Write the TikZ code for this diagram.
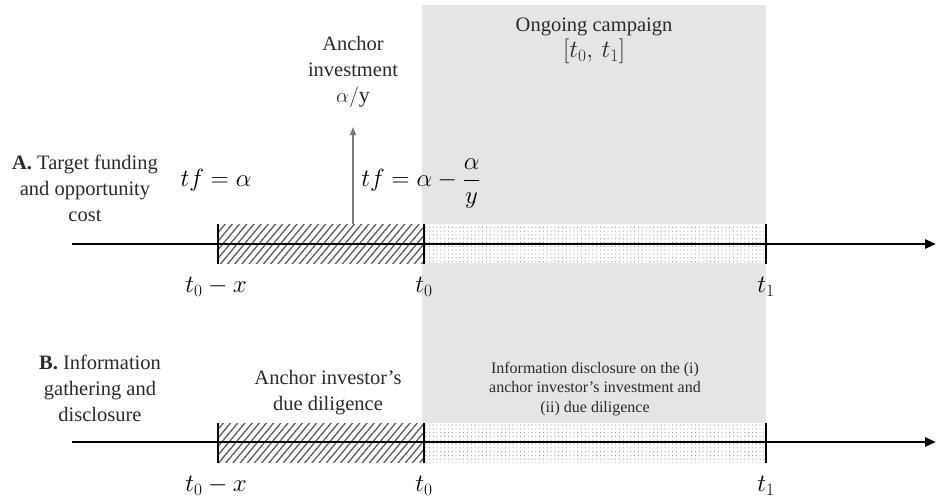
\documentclass[tikz,border=0pt]{standalone}
\usepackage{amsmath}
\usepackage{fontspec}
\setmainfont{Liberation Serif}
\usetikzlibrary{patterns.meta,arrows.meta}
\definecolor{campaign}{HTML}{E5E5E5}
\definecolor{hatchgray}{HTML}{5A5A5A}
\definecolor{dotgray}{HTML}{8C8C8C}
\definecolor{pointer}{HTML}{7A7A7A}
\definecolor{ink}{HTML}{2A2A2A}
\tikzset{
  timeline/.style={line width=2.6pt,-{Triangle[length=11pt,width=9pt]}},
  tickmark/.style={line width=1.8pt},
  hatchband/.style={fill=white,postaction={pattern={Lines[angle=50,distance=5.5pt,line width=1.3pt]},pattern color=hatchgray}},
  dotband/.style={fill=white,postaction={pattern={Dots[distance=3.8pt,radius=0.55pt]},pattern color=dotgray}},
  lbl/.style={align=center,text=ink,font=\fontsize{20.5}{26}\selectfont,inner sep=0pt},
  small/.style={align=center,text=ink,font=\fontsize{16}{19.5}\selectfont,inner sep=0pt},
  mathlbl/.style={font=\fontsize{24}{28}\selectfont,inner sep=0pt},
  pointerarrow/.style={draw=pointer,line width=1.1pt,-{Triangle[length=8pt,width=6pt]}}
}
\begin{document}
\begin{tikzpicture}[x=1pt,y=-1pt]
\useasboundingbox (0,0) rectangle (937,501);

% ongoing campaign window
\fill[campaign] (422,5) rectangle (766,423);

% ---------- panel A ----------
\fill[hatchband] (218,224) rectangle (424,263);
\fill[dotband] (424,224) rectangle (766,263);
\coordinate (aL) at (72,244);
\coordinate (aR) at (936,244);
\draw[timeline] (aL) -- (aR);
\coordinate (a1t) at (218,224); \coordinate (a1b) at (218,264);
\coordinate (a2t) at (424,224); \coordinate (a2b) at (424,264);
\coordinate (a3t) at (766,224); \coordinate (a3b) at (766,264);
\draw[tickmark] (a1t) -- (a1b);
\draw[tickmark] (a2t) -- (a2b);
\draw[tickmark] (a3t) -- (a3b);

\node[mathlbl] (aT0x) at (216,287) {$t_0-x$};
\node[mathlbl] (aT0) at (424,287) {$t_0$};
\node[mathlbl] (aT1) at (766,287) {$t_1$};

\node[lbl] (aHead) at (85,188) {\textbf{A.} Target funding\\and opportunity\\cost};
\node[mathlbl] (tfA) at (216,180) {$tf=\alpha$};
\node[mathlbl] (tfB) at (421,184) {$tf=\alpha-\dfrac{\alpha}{y}$};

\node[lbl] (anchor) at (353,72) {Anchor\\investment\\{\fontsize{22}{26}\selectfont$\alpha/$y}};
\coordinate (anchorBase) at (353,224);
\coordinate (anchorTip) at (353,127);
\draw[pointerarrow] (anchorBase) -- (anchorTip);

\node[lbl] (campaignTxt) at (594,41) {Ongoing campaign\\{\fontsize{26}{27}\selectfont$[t_0,\,t_1]$}};

% ---------- panel B ----------
\fill[hatchband] (218,423) rectangle (424,462);
\fill[dotband] (424,423) rectangle (766,462);
\coordinate (bL) at (72,442);
\coordinate (bR) at (936,442);
\draw[timeline] (bL) -- (bR);
\coordinate (b1t) at (218,423); \coordinate (b1b) at (218,463);
\coordinate (b2t) at (424,423); \coordinate (b2b) at (424,463);
\coordinate (b3t) at (766,423); \coordinate (b3b) at (766,463);
\draw[tickmark] (b1t) -- (b1b);
\draw[tickmark] (b2t) -- (b2b);
\draw[tickmark] (b3t) -- (b3b);

\node[mathlbl] (bT0x) at (216,486) {$t_0-x$};
\node[mathlbl] (bT0) at (424,486) {$t_0$};
\node[mathlbl] (bT1) at (766,486) {$t_1$};

\node[lbl] (bHead) at (100,388) {\textbf{B.} Information\\gathering and\\disclosure};
\node[lbl] (dueDil) at (328,393) {Anchor investor’s\\due diligence};
\node[small] (disclose) at (595,389) {Information disclosure on the (i)\\anchor investor’s investment and\\(ii) due diligence};
\end{tikzpicture}
\end{document}
